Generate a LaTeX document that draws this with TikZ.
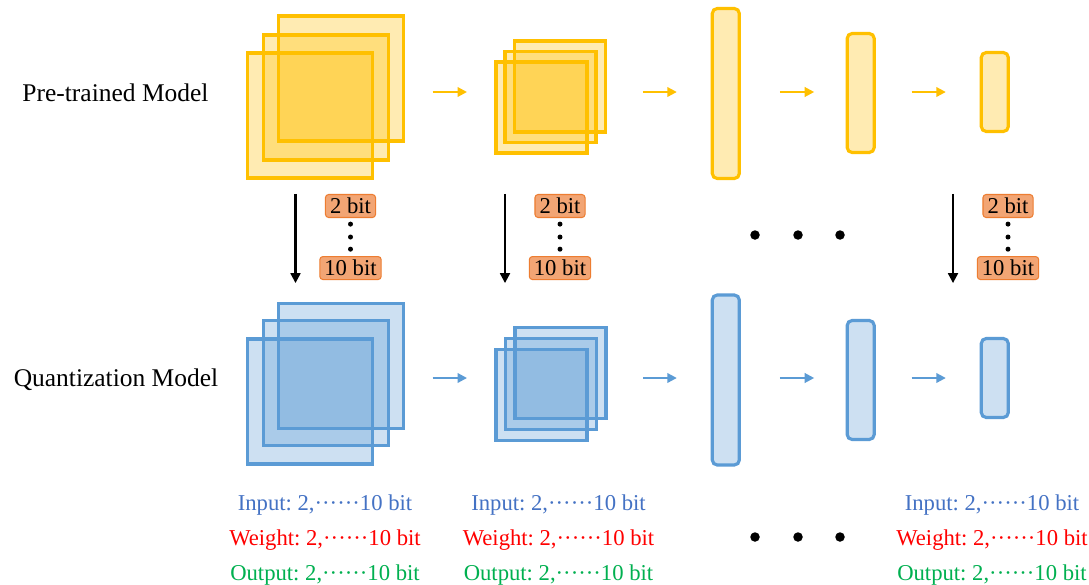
\documentclass[tikz,border=0pt]{standalone}
\usepackage{fontspec}
\setmainfont{Liberation Serif}
\usetikzlibrary{arrows.meta,positioning,calc}
\definecolor{gold}{HTML}{FFC000}
\definecolor{qblue}{HTML}{5B9BD5}
\definecolor{bitfill}{HTML}{F2A574}
\definecolor{bitline}{HTML}{ED7D31}
\definecolor{inblue}{HTML}{4472C4}
\definecolor{wtred}{HTML}{FF0000}
\definecolor{outgreen}{HTML}{00B050}
\frenchspacing

\begin{document}
\begin{tikzpicture}[
    x=0.02cm, y=-0.02cm,
    node distance=0.76cm,
    every node/.style={font=\fontsize{14.5}{17}\selectfont},
    fmap/.style={draw, line width=1.8pt, fill opacity=0.3, minimum size=#1, inner sep=0pt, outer sep=0pt},
    layer/.style={draw, line width=1.8pt, fill opacity=0.3, rounded corners=2.8pt, minimum width=0.54cm, minimum height=#1, inner sep=0pt, outer sep=0pt},
    p/.style={draw=gold, fill=gold},
    q/.style={draw=qblue, fill=qblue},
    pflow/.style={-{Triangle[length=5.4pt,width=5.4pt]}, line width=1.2pt, color=gold},
    qflow/.style={-{Triangle[length=5.4pt,width=5.4pt]}, line width=1.2pt, color=qblue},
    quant/.style={-{Triangle[length=5.6pt,width=5.6pt]}, line width=1.2pt, shorten >=-0.06cm},
    bits/.style={draw=bitline, fill=bitfill, line width=0.6pt, rounded corners=1.8pt, inner xsep=2.6pt, inner ysep=0pt, minimum height=0.46cm, font=\fontsize{12.9}{14}\selectfont},
    info/.style={align=center, font=\fontsize{12.9}{19.9}\selectfont}
]
\useasboundingbox[fill=white] (0,0) rectangle (1089,585);

% row labels
\node (plabel) at (115.5,93) {Pre-trained Model};
\node (qlabel) at (116,380) {Quantization Model};
\coordinate (prow) at (0,92);
\coordinate (qrow) at (0,378);

% pre-trained model
\node[fmap=2.5cm, p] (pBigA) at (341.2,78.5) {};
\node[fmap=2.5cm, p] (pBigB) at (325.8,97.5) {};
\node[fmap=2.5cm, p] (pBigC) at (309.8,115.5) {};
\node[fmap=1.82cm, p] (pSmlA) at (560,86.5) {};
\node[fmap=1.82cm, p] (pSmlB) at (550.5,97) {};
\node[fmap=1.82cm, p] (pSmlC) at (541.5,107.5) {};
\node[layer=3.4cm, p] (pBar1) at (725.8,93.5) {};
\node[layer=2.38cm, p] (pBar2) at (860.7,93) {};
\node[layer=1.58cm, p] (pBar3) at (994.8,92) {};

% quantization model
\node[fmap=2.5cm, q] (qBigA) at (341.2,366) {};
\node[fmap=2.5cm, q] (qBigB) at (325.8,383.3) {};
\node[fmap=2.5cm, q] (qBigC) at (309.8,401.5) {};
\node[fmap=1.82cm, q] (qSmlA) at (560.5,373.3) {};
\node[fmap=1.82cm, q] (qSmlB) at (550.7,383.8) {};
\node[fmap=1.82cm, q] (qSmlC) at (541.5,394.8) {};
\node[layer=3.4cm, q] (qBar1) at (725.8,380) {};
\node[layer=2.38cm, q] (qBar2) at (860.7,380) {};
\node[layer=1.58cm, q] (qBar3) at (994.8,378) {};

\foreach \r in {p,q}
  \foreach \a/\b/\s/\e in {BigA/SmlC/0.58/0.58, SmlA/Bar1/0.75/0.71, Bar1/Bar2/0.81/0.66, Bar2/Bar3/0.75/0.71}
    \draw[\r flow, shorten <=\s cm, shorten >=\e cm] (\r\a.east |- \r row) -- (\r\b.west |- \r row);

% bit widths
\node[bits] (two1) at (350.5,206) {2 bit};
\node[bits] (two2) at (560,206) {2 bit};
\node[bits] (two3) at (1008,206) {2 bit};
\foreach \i in {1,2,3} {
  \node[bits, below=of two\i] (ten\i) {10 bit};
  \draw[quant] ([xshift=-1.1cm]two\i.north) -- ([xshift=-1.1cm]ten\i.south);
  \foreach \f in {0.16,0.5,0.82}
    \fill ($(two\i.south)!\f!(ten\i.north)$) circle (0.05cm);
}
\foreach \x in {755,798,840} {
  \fill (\x,235) circle (0.095cm);
  \fill (\x,537) circle (0.095cm);
}

% precision of each layer
\node[info] (info1) at (325,540) {\textcolor{inblue}{Input: 2,······10 bit}\\\textcolor{wtred}{Weight: 2,······10 bit}\\\textcolor{outgreen}{Output: 2,······10 bit}};
\node[info] (info2) at (558.5,540) {\textcolor{inblue}{Input: 2,······10 bit}\\\textcolor{wtred}{Weight: 2,······10 bit}\\\textcolor{outgreen}{Output: 2,······10 bit}};
\node[info] (info3) at (992,540) {\textcolor{inblue}{Input: 2,······10 bit}\\\textcolor{wtred}{Weight: 2,······10 bit}\\\textcolor{outgreen}{Output: 2,······10 bit}};
\end{tikzpicture}
\end{document}
